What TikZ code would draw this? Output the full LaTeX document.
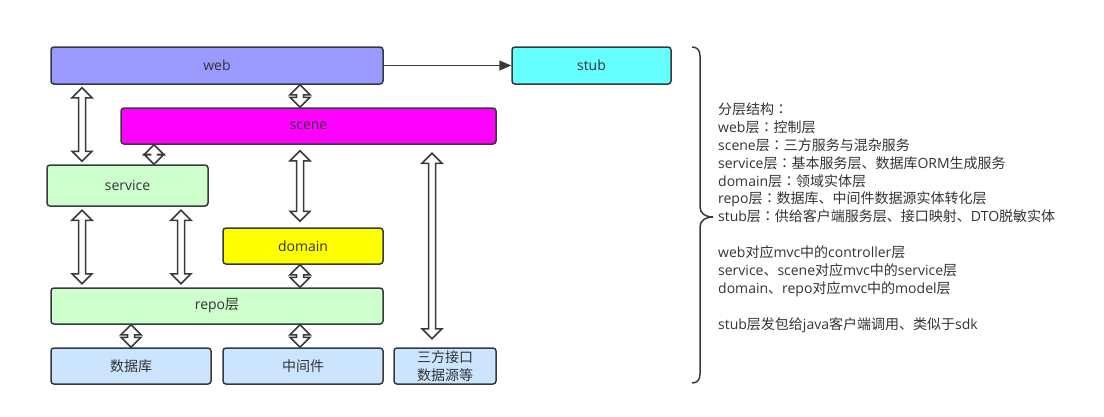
\documentclass[tikz,border=0pt]{standalone}
\usepackage{fontspec}
\setmainfont{Open Sans}
\newfontfamily\cjk{Noto Sans CJK SC}
\newfontfamily\cjkp{Noto Sans CJK TC}
\newcommand{\zh}[1]{{\cjk #1}}
\newcommand{\zhcolon}{{\cjkp ：}}
\usepackage{tikz}
\usetikzlibrary{arrows.meta,calc}
\usepackage{xcolor}
\definecolor{edge}{HTML}{36393D}
\definecolor{webc}{HTML}{9999FF}
\definecolor{stubc}{HTML}{66FFFF}
\definecolor{scenec}{HTML}{FF00FF}
\definecolor{greenc}{HTML}{CCFFCC}
\definecolor{domainc}{HTML}{FFFF00}
\definecolor{bluec}{HTML}{CCE5FF}
\tikzset{
  layer/.style={draw=edge,line width=1.5pt,rounded corners=3pt,minimum height=36pt,inner sep=0pt,text=black!80,font=\fontsize{14}{17.5}\selectfont},
  flex/.style={draw=edge,fill=white,line width=1.5pt,line join=miter}
}
% hollow double arrow: [gap] x, upper node, lower node
\newcommand{\dblarrow}[4][0]{%
  \draw[flex] let \p1=(#3), \p2=(#4) in
    (#2pt,\y1-#1pt) -- ++(10pt,-10pt) -- ++(-6.5pt,0pt) -- (#2pt+3.5pt,\y2+#1pt+10pt) -- ++(6.5pt,0pt)
    -- (#2pt,\y2+#1pt) -- ++(-10pt,10pt) -- ++(6.5pt,0pt) -- (#2pt-3.5pt,\y1-#1pt-10pt) -- ++(-6.5pt,0pt) -- cycle;}
\begin{document}
\begin{tikzpicture}[x=1pt,y=-1pt]
  \useasboundingbox (0,0) rectangle (1104,416);
  % layers
  \node[layer,fill=webc,minimum width=332pt,minimum height=37pt] (web) at (217,65.5) {web};
  \node[layer,fill=stubc,minimum width=159pt,minimum height=37pt] (stub) at (591.5,65.5) {stub};
  \node[layer,fill=scenec,minimum width=375pt] (scene) at (308.5,126) {scene};
  \node[layer,fill=greenc,minimum width=161pt,minimum height=41pt] (service) at (127.5,185.5) {service};
  \node[layer,fill=domainc,minimum width=160pt] (domain) at (303,246) {domain};
  \node[layer,fill=greenc,minimum width=332pt] (repo) at (217,306) {repo\zh{层}};
  % sources
  \node[layer,fill=bluec,minimum width=160pt] (db) at (131,366) {\zh{数据库}};
  \node[layer,fill=bluec,minimum width=160pt] (mid) at (303,366) {\zh{中间件}};
  \node[layer,fill=bluec,minimum width=102pt,align=center] (api) at (445,366) {\zh{三方接口}\\\zh{数据源等}};
  \draw[edge,line width=1.5pt,-{Triangle[length=12pt,width=10pt]}] (web) -- (stub);
  % double arrows
  \dblarrow[3]{82}{web.south}{service.north}
  \dblarrow{300}{web.south}{scene.north}
  \dblarrow{154}{scene.south}{service.north}
  \dblarrow[6]{300}{scene.south}{domain.north}
  \dblarrow[8.5]{432}{scene.south}{api.north}
  \dblarrow[3.5]{82}{service.south}{repo.north}
  \dblarrow[3.5]{181}{service.south}{repo.north}
  \dblarrow{300}{domain.south}{repo.north}
  \dblarrow{131}{repo.south}{db.north}
  \dblarrow{300}{repo.south}{mid.north}
  % brace
  \draw[edge,line width=1.5pt] (692,47) .. controls (697,47) and (700,50) .. (700,56) -- (700,207)
    .. controls (700,213) and (705,217) .. (713,217) .. controls (705,217) and (700,221) .. (700,227)
    -- (700,374) .. controls (700,380) and (697,383) .. (692,383);
  \node[anchor=north west,inner sep=0pt,align=left,text=black!80,font=\fontsize{14}{17.9}\selectfont] (notes) at (718,102.5) {%
    \zh{分层结构}\zhcolon\\
    web\zh{层}\zhcolon\zh{控制层}\\
    scene\zh{层}\zhcolon\zh{三方服务与混杂服务}\\
    service\zh{层}\zhcolon\zh{基本服务层、数据库}ORM\zh{生成服务}\\
    domain\zh{层}\zhcolon\zh{领域实体层}\\
    repo\zh{层}\zhcolon\zh{数据库、中间件数据源实体转化层}\\
    stub\zh{层}\zhcolon\zh{供给客户端服务层、接口映射、}DTO\zh{脱敏实体}\\
    \strut\\
    web\zh{对应}mvc\zh{中的}controller\zh{层}\\
    service\zh{、}scene\zh{对应}mvc\zh{中的}service\zh{层}\\
    domain\zh{、}repo\zh{对应}mvc\zh{中的}model\zh{层}\\
    \strut\\
    stub\zh{层发包给}java\zh{客户端调用、类似于}sdk};
\end{tikzpicture}
\end{document}
